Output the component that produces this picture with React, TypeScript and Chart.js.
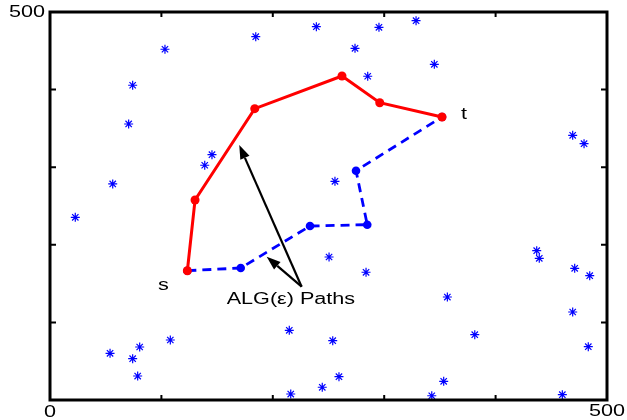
import React, { useEffect, useRef } from "react";
import { Chart, registerables } from "chart.js";

Chart.register(...registerables);

// scattered nodes
const starX = [103.2, 184.7, 239.1, 74.2, 70.6, 145.4, 138.9, 56.3, 295.3, 328.6, 273.8, 345.0, 285.2, 469.2, 479.4, 255.8, 22.7, 53.9, 74.2, 80.5, 108.0, 78.7, 214.8, 216.1, 250.5, 283.7, 436.9, 439.2, 471.0, 484.5, 356.7, 469.2, 381.3, 483.2, 253.8, 259.4, 244.4, 353.4, 342.7, 459.9];
const starY = [452.0, 468.2, 481.1, 405.6, 355.7, 316.1, 302.5, 278.4, 480.3, 488.8, 453.2, 432.6, 417.2, 341.1, 330.3, 281.8, 235.4, 60.2, 53.2, 68.3, 77.3, 30.9, 89.8, 7.7, 184.3, 164.6, 192.4, 182.6, 169.7, 160.2, 132.7, 113.4, 84.2, 68.7, 76.4, 30.0, 16.4, 24.1, 5.5, 6.8];

// red solid path s -> t
const redX = [123.3, 130.2, 183.8, 262.1, 296.0, 351.9];
const redY = [166.6, 257.7, 375.4, 417.5, 383.1, 364.7];

// blue dashed path s -> t
const blueX = [123.3, 171.2, 233.4, 284.8, 274.7, 351.9];
const blueY = [166.6, 170.1, 224.2, 225.9, 295.5, 364.7];

// arrows (tail -> tip), data units
const arrowTailX = [225.9, 225.9];
const arrowTailY = [146.0, 146.0];
const arrowTipX = [169.9, 194.5];
const arrowTipY = [328.6, 184.7];

// text annotations
const noteText = ["s", "t", "ALG(ε) Paths"];
const noteX = [101.7, 369.0, 158.6];
const noteY = [146.9, 367.3, 128.9];
const noteAlign = ["center", "left", "left"];

const tickValues = [100, 200, 300, 400];
const axisMin = 0;
const axisMax = 500;

const FONT = '"Liberation Sans", Arial, Helvetica, sans-serif';
const STRETCH = 1.35;

function stretchedText(ctx: CanvasRenderingContext2D, text: string, x: number, y: number, align: string, baseline: string, size: number) {
  ctx.save();
  ctx.font = `${size}px ${FONT}`;
  ctx.textBaseline = baseline as CanvasTextBaseline;
  ctx.textAlign = "left";
  const w = ctx.measureText(text).width * STRETCH;
  let x0 = x;
  if (align === "center") x0 = x - w / 2;
  else if (align === "right") x0 = x - w;
  ctx.translate(x0, y);
  ctx.scale(STRETCH, 1);
  ctx.fillStyle = "#000";
  ctx.fillText(text, 0, 0);
  ctx.restore();
}

const decorPlugin = {
  id: "decor",
  afterDatasetsDraw(chart: any) {
    const ctx: CanvasRenderingContext2D = chart.ctx;
    const xs = chart.scales.x;
    const ys = chart.scales.y;
    const a = chart.chartArea;
    ctx.save();
    // arrows
    ctx.strokeStyle = "#000";
    ctx.fillStyle = "#000";
    ctx.lineWidth = 2.2;
    for (let i = 0; i < arrowTipX.length; i++) {
      const x1 = xs.getPixelForValue(arrowTailX[i]);
      const y1 = ys.getPixelForValue(arrowTailY[i]);
      const x2 = xs.getPixelForValue(arrowTipX[i]);
      const y2 = ys.getPixelForValue(arrowTipY[i]);
      const ang = Math.atan2(y2 - y1, x2 - x1);
      const hl = 14;
      const hw = 5;
      const bx = x2 - hl * Math.cos(ang);
      const by = y2 - hl * Math.sin(ang);
      ctx.beginPath();
      ctx.moveTo(x1, y1);
      ctx.lineTo(bx, by);
      ctx.stroke();
      ctx.beginPath();
      ctx.moveTo(x2, y2);
      ctx.lineTo(bx + hw * Math.sin(ang), by - hw * Math.cos(ang));
      ctx.lineTo(bx - hw * Math.sin(ang), by + hw * Math.cos(ang));
      ctx.closePath();
      ctx.fill();
    }
    // annotations
    for (let i = 0; i < noteText.length; i++) {
      stretchedText(ctx, noteText[i], xs.getPixelForValue(noteX[i]), ys.getPixelForValue(noteY[i]), noteAlign[i], "middle", 16);
    }
    // box
    ctx.lineWidth = 3;
    ctx.strokeStyle = "#000";
    ctx.strokeRect(a.left, a.top, a.right - a.left, a.bottom - a.top);
    // ticks
    ctx.lineWidth = 2;
    for (const v of tickValues) {
      const px = xs.getPixelForValue(v);
      const py = ys.getPixelForValue(v);
      ctx.beginPath();
      ctx.moveTo(px, a.bottom); ctx.lineTo(px, a.bottom - 5);
      ctx.moveTo(px, a.top); ctx.lineTo(px, a.top + 5);
      ctx.moveTo(a.left, py); ctx.lineTo(a.left + 6, py);
      ctx.moveTo(a.right, py); ctx.lineTo(a.right - 6, py);
      ctx.stroke();
    }
    // tick labels (only min / max)
    stretchedText(ctx, String(axisMax), a.left - 5, ys.getPixelForValue(axisMax) + 1, "right", "middle", 16);
    stretchedText(ctx, String(axisMin), xs.getPixelForValue(axisMin), a.bottom + 13, "center", "middle", 16);
    stretchedText(ctx, String(axisMax), xs.getPixelForValue(axisMax), a.bottom + 12, "center", "middle", 16);
    ctx.restore();
  },
};

export default function App() {
  const ref = useRef<HTMLCanvasElement | null>(null);
  useEffect(() => {
    if (!ref.current) return;
    const toPts = (xs: number[], ys: number[]) => xs.map((x, i) => ({ x, y: ys[i] }));
    const chart = new Chart(ref.current, {
      type: "scatter",
      data: {
        datasets: [
          {
            label: "red",
            data: toPts(redX, redY),
            showLine: true,
            borderColor: "#ff0000",
            backgroundColor: "#ff0000",
            borderWidth: 3,
            pointRadius: 4.5,
            pointStyle: "circle",
            pointBorderWidth: 0,
            clip: false,
          } as any,
          {
            label: "blue",
            data: toPts(blueX, blueY),
            showLine: true,
            borderColor: "#0000ff",
            backgroundColor: "#0000ff",
            borderWidth: 2.8,
            borderDash: [9, 6],
            pointRadius: 4.3,
            pointStyle: "circle",
            pointBorderWidth: 0,
            clip: false,
          } as any,
          {
            label: "nodes",
            data: toPts(starX, starY),
            showLine: false,
            borderColor: "#0000ff",
            backgroundColor: "#0000ff",
            pointStyle: "star",
            pointRadius: 4.5,
            pointBorderWidth: 1.2,
            clip: false,
          } as any,
        ],
      },
      options: {
        responsive: false,
        animation: false,
        devicePixelRatio: 1,
        layout: { padding: { left: 50, right: 20, top: 12, bottom: 20 } },
        plugins: { legend: { display: false }, tooltip: { enabled: false } },
        scales: {
          x: { type: "linear", min: axisMin, max: axisMax, display: false },
          y: { type: "linear", min: axisMin, max: axisMax, display: false },
        },
      },
      plugins: [decorPlugin],
    });
    return () => chart.destroy();
  }, []);
  return (
    <div style={{ position: "fixed", left: 0, top: 0, width: 627, height: 420, background: "#fff" }}>
      <canvas ref={ref} width={627} height={420} />
    </div>
  );
}
